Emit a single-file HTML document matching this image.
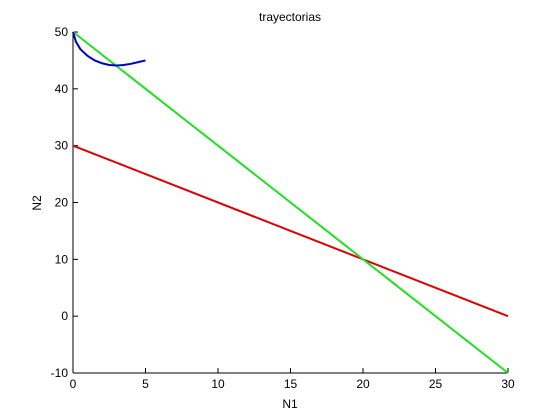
<!DOCTYPE html>
<html><head><meta charset="utf-8"><style>
body{margin:0;background:#fff;}
svg{display:block;font-family:"Liberation Sans",sans-serif;}
</style></head><body>
<svg id="chart" width="560" height="420"></svg>
<script>
const xTicks=[0,5,10,15,20,25,30];
const yTicks=[-10,0,10,20,30,40,50];
const redX=[0,30];
const redY=[30,0];
const greenX=[0,30];
const greenY=[50,-10];
const blueX=[0,0.2,0.5,1,1.5,2,2.5,3,3.5,4,4.5,5];
const blueY=[50,48.3,47,45.8,45,44.5,44.2,44.1,44.2,44.4,44.7,45.0];
const L=73,R=508,T=32,B=373;
const sx=v=>L+(v-0)/(30-0)*(R-L);
const sy=v=>B-(v+10)/(60)*(B-T);
const svg=document.getElementById('chart');
const NS='http://www.w3.org/2000/svg';
function mk(t,a){const e=document.createElementNS(NS,t);for(const k in a)e.setAttribute(k,a[k]);svg.appendChild(e);return e;}
let e=mk('line',{x1:L,y1:T,x2:L,y2:B,stroke:'#000'});


e=mk('line',{x1:L,y1:B,x2:R,y2:B,stroke:'#000'});


xTicks.forEach(v=>{
 const t=mk('line',{x1:sx(v),y1:B,x2:sx(v),y2:B-5,stroke:'#000'});
 
 
 const l=mk('text',{x:sx(v),y:B+15,'font-size':12,'text-anchor':'middle'});l.textContent=v;
 
 
});
yTicks.forEach(v=>{
 const t=mk('line',{x1:L,y1:sy(v),x2:L+5,y2:sy(v),stroke:'#000'});
 
 
 const l=mk('text',{x:L-5,y:sy(v)+4,'font-size':12,'text-anchor':'end'});l.textContent=v;
 
 
});
function series(xs,ys,c,n){
 const p=mk('polyline',{points:xs.map((x,i)=>sx(x)+','+sy(ys[i])).join(' '),fill:'none',stroke:c,'stroke-width':2});
 
 
}
series(redX,redY,'#e00000','red-trajectory');
series(greenX,greenY,'#22e022','green-trajectory');
series(blueX,blueY,'#0000c0','blue-trajectory');
e=mk('text',{x:290,y:21,'font-size':12,'text-anchor':'middle'});e.textContent='trayectorias';


e=mk('text',{x:290,y:408,'font-size':12,'text-anchor':'middle'});e.textContent='N1';


e=mk('text',{x:41,y:203,'font-size':12,'text-anchor':'middle',transform:'rotate(-90 41 203)'});e.textContent='N2';


</script>
</body></html>
